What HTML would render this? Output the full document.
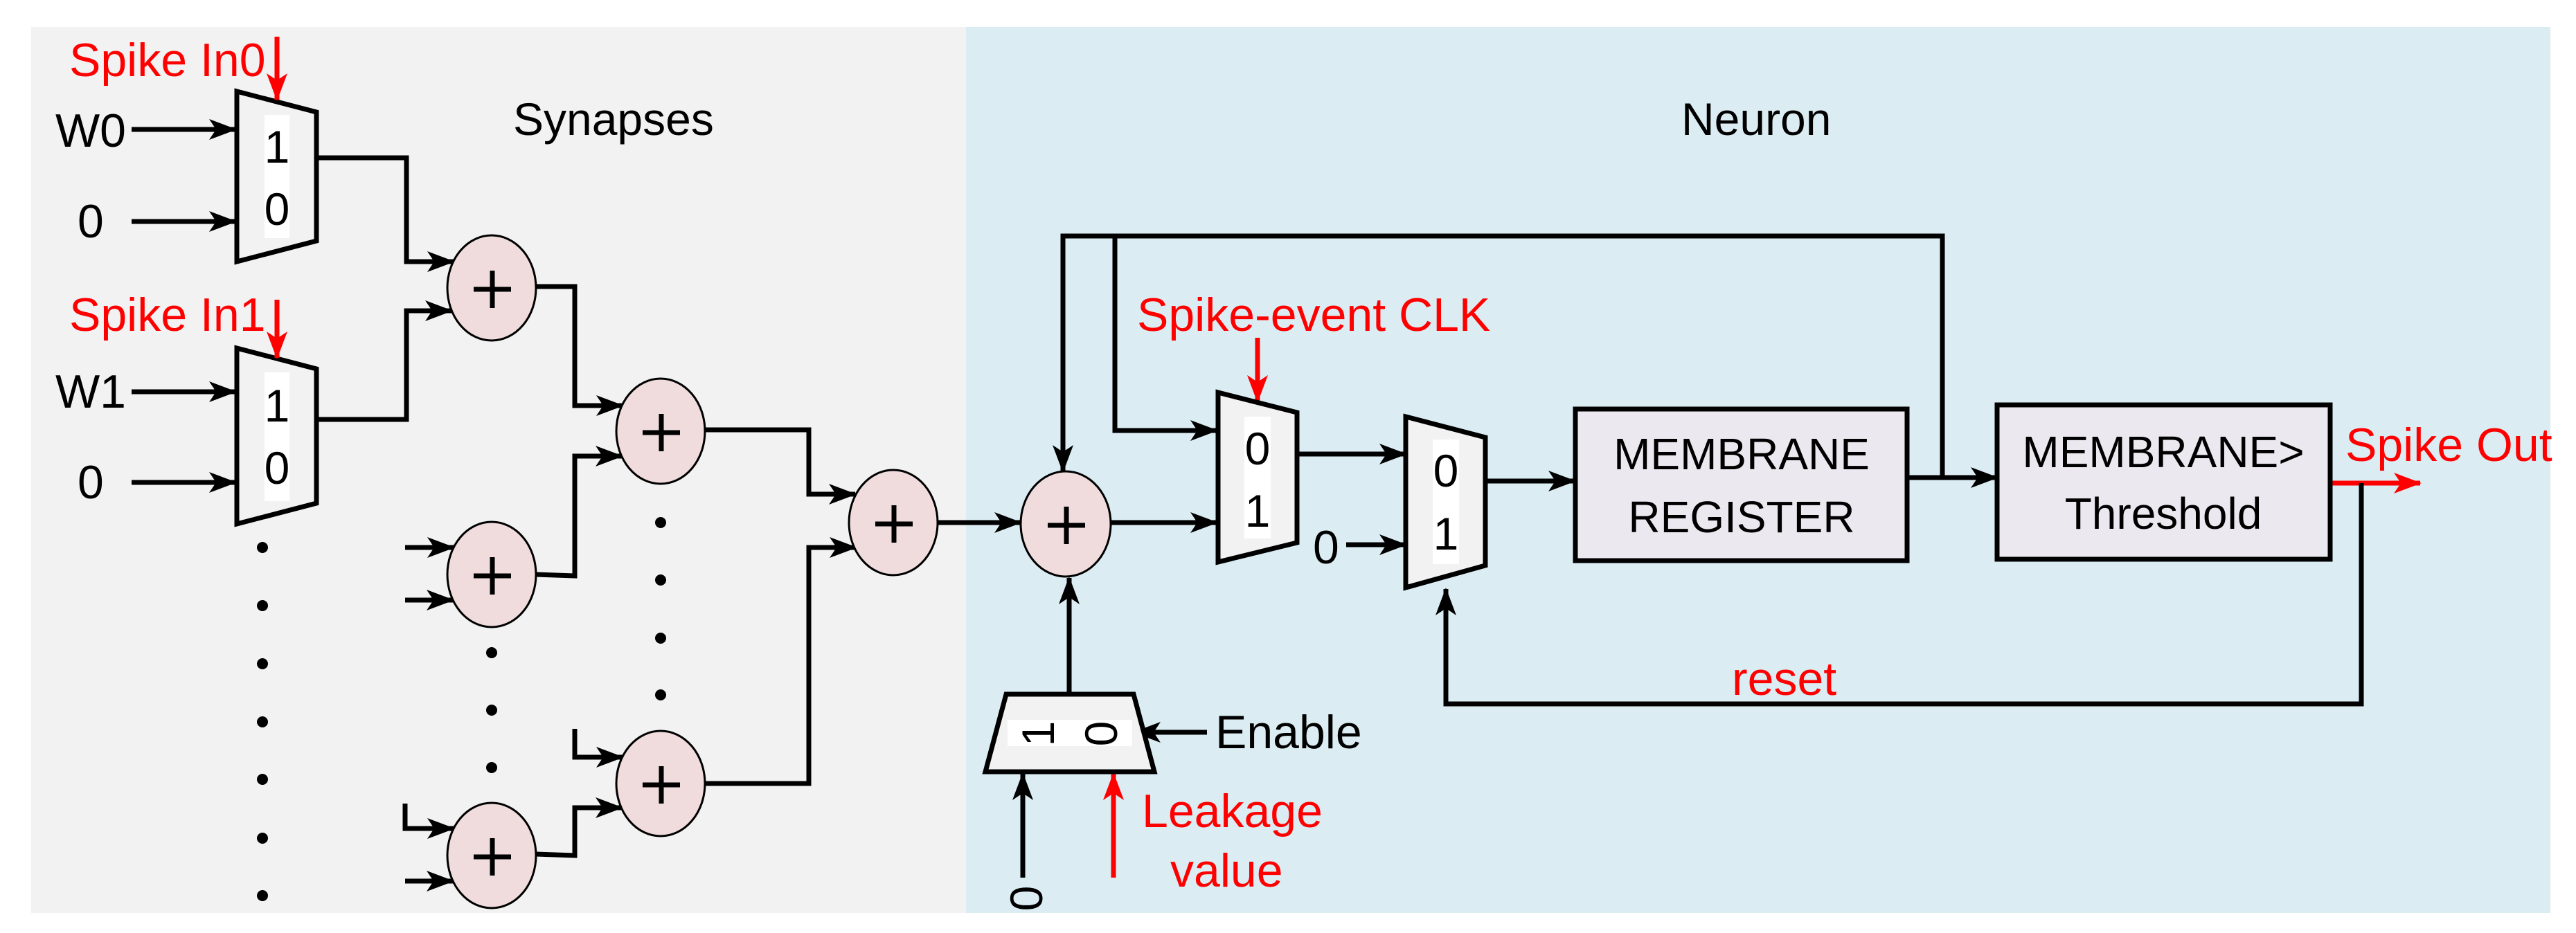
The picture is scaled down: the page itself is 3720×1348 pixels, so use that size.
<!DOCTYPE html>
<html><head><meta charset="utf-8"><style>
html,body{margin:0;padding:0;background:#fff}
svg{display:block}
text{font-family:"Liberation Sans",sans-serif}
</style></head><body>
<svg width="3720" height="1348" viewBox="0 0 3720 1348" xmlns="http://www.w3.org/2000/svg">
<defs>
<marker id="a" viewBox="0 0 40 30" markerUnits="userSpaceOnUse" markerWidth="40" markerHeight="30" refX="38" refY="15" orient="auto"><path d="M0,0 L40,15 L0,30 L10,15 z" fill="#000"/></marker>
<marker id="r" viewBox="0 0 40 30" markerUnits="userSpaceOnUse" markerWidth="40" markerHeight="30" refX="38" refY="15" orient="auto"><path d="M0,0 L40,15 L0,30 L10,15 z" fill="#f00"/></marker>
</defs>
<rect x="45" y="39" width="1352" height="1280" fill="#f2f2f2"/>
<rect x="1395" y="39" width="2288" height="1280" fill="#dbedf3"/>

<text x="741" y="195" font-size="66">Synapses</text>
<text x="2428" y="195" font-size="66">Neuron</text>

<g fill="none" stroke="#000" stroke-width="7">
<path d="M342,132 L457,162 L457,348 L342,378 Z" fill="#f2f2f2"/>
<path d="M342,503 L457,533 L457,727 L342,757 Z" fill="#f2f2f2"/>
</g>
<rect x="382" y="166" width="36" height="178" fill="#fff"/>
<rect x="382" y="538" width="36" height="186" fill="#fff"/>
<g font-size="66" text-anchor="middle">
<text x="400" y="235">1</text><text x="400" y="325">0</text>
<text x="400" y="609">1</text><text x="400" y="699">0</text>
</g>
<g font-size="68" fill="#f00">
<text x="100" y="110">Spike In0</text>
<text x="100" y="478">Spike In1</text>
<text x="1642" y="478">Spike-event CLK</text>
<text x="2501" y="1004">reset</text>
<text x="3387" y="666">Spike Out</text>
<text x="1649" y="1195">Leakage</text>
<text x="1690" y="1281">value</text>
</g>
<g font-size="68">
<text x="80" y="212">W0</text>
<text x="112" y="343">0</text>
<text x="80" y="589">W1</text>
<text x="112" y="720">0</text>
<text x="1896" y="814">0</text>
<text x="1755" y="1081">Enable</text>
</g>

<g stroke="#f00" stroke-width="7" fill="none">
<path d="M400,53 V144" marker-end="url(#r)"/>
<path d="M400,433 V517" marker-end="url(#r)"/>
<path d="M1816,488 V580" marker-end="url(#r)"/>
<path d="M1608,1268 V1118" marker-end="url(#r)"/>
<path d="M3365,698 H3495" marker-end="url(#r)"/>
</g>

<g stroke="#000" stroke-width="7" fill="none">
<path d="M190,187 H340" marker-end="url(#a)"/>
<path d="M190,320 H340" marker-end="url(#a)"/>
<path d="M190,566 H340" marker-end="url(#a)"/>
<path d="M190,697 H340" marker-end="url(#a)"/>
<path d="M457,228 H587 V378 H655" marker-end="url(#a)"/>
<path d="M457,606 H587 V449 H652" marker-end="url(#a)"/>
<path d="M585,791 H655" marker-end="url(#a)"/>
<path d="M585,867 H654" marker-end="url(#a)"/>
<path d="M585,1161 V1197 H655" marker-end="url(#a)"/>
<path d="M585,1273 H654" marker-end="url(#a)"/>
<path d="M774,414 H830 V586 H899" marker-end="url(#a)"/>
<path d="M774,830 L830,832 V659 H898" marker-end="url(#a)"/>
<path d="M830,1053 V1094 H899" marker-end="url(#a)"/>
<path d="M774,1234 L830,1236 V1167 H898" marker-end="url(#a)"/>
<path d="M1018,621 H1168 V714 H1235" marker-end="url(#a)"/>
<path d="M1018,1132 H1168 V791 H1236" marker-end="url(#a)"/>
<path d="M1354,755 H1474" marker-end="url(#a)"/>
<path d="M1535,681 V341 H2805 V690"/>
<path d="M1610,341 V622 H1757" marker-end="url(#a)"/>
<path d="M1603,755 H1757" marker-end="url(#a)"/>
<path d="M1873,656 H2030" marker-end="url(#a)"/>
<path d="M1944,787 H2030" marker-end="url(#a)"/>
<path d="M2145,695 H2274" marker-end="url(#a)"/>
<path d="M2754,690 H2884" marker-end="url(#a)"/>
<path d="M1535,341 V681" marker-end="url(#a)"/>
<path d="M3410,698 V1017 H2088 V851" marker-end="url(#a)"/>
<path d="M1544,1003 V835" marker-end="url(#a)"/>
<path d="M1743,1058 H1638" marker-end="url(#a)"/>
<path d="M1477,1268 V1118" marker-end="url(#a)"/>
<path d="M1759,567 L1873,596 L1873,784 L1759,812 Z" fill="#f2f2f2"/>
<path d="M2030,602 L2145,632 L2145,817 L2030,849 Z" fill="#f2f2f2"/>
<path d="M1453,1003 L1637,1003 L1667,1115 L1423,1115 Z" fill="#f2f2f2"/>
<rect x="2275" y="591" width="479" height="219" fill="#ebe8f0"/>
<rect x="2884" y="585" width="481" height="223" fill="#ebe8f0"/>
</g>
<rect x="1797" y="602" width="38" height="176" fill="#fff"/>
<rect x="2069" y="635" width="38" height="180" fill="#fff"/>
<rect x="1455" y="1040" width="180" height="38" fill="#fff"/>
<g font-size="66" text-anchor="middle">
<text x="1816" y="671">0</text><text x="1816" y="761">1</text>
<text x="2088" y="703">0</text><text x="2088" y="794">1</text>
<text transform="translate(1522,1060) rotate(-90)">1</text>
<text transform="translate(1613,1060) rotate(-90)">0</text>
<text transform="translate(1505,1298) rotate(-90)">0</text>
</g>
<g font-size="64" text-anchor="middle">
<text x="2515" y="678">MEMBRANE</text>
<text x="2515" y="769">REGISTER</text>
<text x="3124" y="675">MEMBRANE&gt;</text>
<text x="3124" y="764">Threshold</text>
</g>

<g fill="#f0dcdc" stroke="#000" stroke-width="3">
<ellipse cx="710" cy="416" rx="64" ry="76"/>
<ellipse cx="710" cy="830" rx="64" ry="76"/>
<ellipse cx="710" cy="1236" rx="64" ry="76"/>
<ellipse cx="954" cy="623" rx="64" ry="76"/>
<ellipse cx="954" cy="1132" rx="64" ry="76"/>
<ellipse cx="1290" cy="755" rx="64" ry="76"/>
<ellipse cx="1539" cy="757" rx="65" ry="76"/>
</g>
<g stroke="#000" stroke-width="7">
<path d="M684,418 h54 M711,391 v54"/>
<path d="M684,832 h54 M711,805 v54"/>
<path d="M684,1238 h54 M711,1211 v54"/>
<path d="M928,625 h54 M955,598 v54"/>
<path d="M928,1134 h54 M955,1107 v54"/>
<path d="M1264,757 h54 M1291,730 v54"/>
<path d="M1513,759 h54 M1540,732 v54"/>
</g>
<g fill="#000">
<circle cx="379" cy="791" r="8"/><circle cx="379" cy="875" r="8"/><circle cx="379" cy="959" r="8"/><circle cx="379" cy="1043" r="8"/><circle cx="379" cy="1126" r="8"/><circle cx="379" cy="1211" r="8"/><circle cx="379" cy="1294" r="8"/>
<circle cx="710" cy="943" r="8"/><circle cx="710" cy="1026" r="8"/><circle cx="710" cy="1109" r="8"/>
<circle cx="954" cy="755" r="8"/><circle cx="954" cy="838" r="8"/><circle cx="954" cy="922" r="8"/><circle cx="954" cy="1004" r="8"/>
</g>
</svg>
</body></html>
